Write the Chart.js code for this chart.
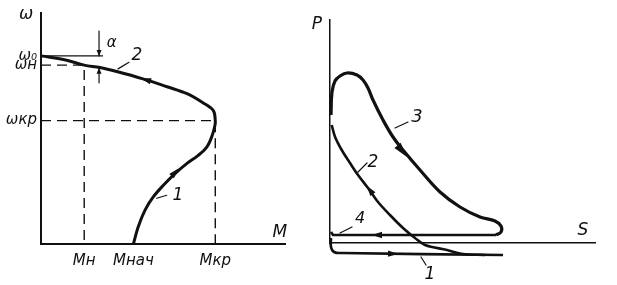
<!DOCTYPE html>
<html>
<head>
<meta charset="utf-8">
<script src="https://cdn.jsdelivr.net/npm/chart.js@4.4.1/dist/chart.umd.min.js"></script>
<style>
html, body { margin: 0; padding: 0; background: #fff; }
#wrap { position: relative; width: 617px; height: 285px; }
canvas { position: absolute; top: 0; }
#left { left: 0; }
#right { left: 300px; }
</style>
</head>
<body>
<div id="wrap">
  <canvas id="left" width="300" height="285"></canvas>
  <canvas id="right" width="317" height="285"></canvas>
</div>
<script>
/* ================= DATA: left, ω(M) ================= */
const momentTicks = [0.248, 0.530, 1.0];
const momentLabels = ["Mн", "Mнач", "Mкр"];
const speedTicks = [1.0, 0.951, 0.656];
const speedLabels = ["ω₀", "ωн", "ωкр"];

// mechanical characteristic, from start (Mнач, 0) up to idle (0, ω0)
const charM = [0.530, 0.558, 0.597, 0.644, 0.702, 0.769, 0.836, 0.902, 0.951, 0.979, 0.998, 1.0,
               0.989, 0.929, 0.838, 0.723, 0.585, 0.434, 0.338, 0.248, 0.147, 0];
const charW = [0, 0.092, 0.180, 0.250, 0.312, 0.374, 0.427, 0.471, 0.515, 0.568, 0.630, 0.656,
               0.709, 0.751, 0.799, 0.836, 0.878, 0.917, 0.938, 0.951, 0.977, 1.0];

/* ================= DATA: right, P(S) ================= */
const loop3S = [0.01, 0.02, 0.05, 0.10, 0.17, 0.27, 0.33, 0.38, 0.43, 0.53, 0.63, 0.73,
                0.90, 1.10, 1.30, 1.50, 1.65, 1.71, 1.71, 1.66];
const loop3P = [1.28, 1.51, 1.62, 1.67, 1.70, 1.68, 1.63, 1.55, 1.43, 1.23, 1.06, 0.93,
                0.73, 0.51, 0.36, 0.26, 0.22, 0.17, 0.11, 0.08];
const line4S = [1.66, 0.03, 0.01];
const line4P = [0.08, 0.08, 0.11];
const line1S = [0.01, 0.01, 0.04, 0.12, 1.73];
const line1P = [0.05, -0.04, -0.09, -0.10, -0.12];
const curve2S = [0.017, 0.05, 0.117, 0.20, 0.28, 0.38, 0.48, 0.60, 0.73, 0.85, 0.95, 1.17, 1.33, 1.55];
const curve2P = [1.18, 1.063, 0.93, 0.80, 0.68, 0.55, 0.41, 0.28, 0.15, 0.05, -0.02, -0.07, -0.11, -0.12];

const INK = "#111";
const HAND = "'DejaVu Sans', sans-serif";

function pts(xs, ys) { return xs.map((x, i) => ({ x: x, y: ys[i] })); }

function line(data, width, extra) {
    return Object.assign({
        data: data, showLine: true, borderColor: INK, backgroundColor: INK,
        borderWidth: width, pointRadius: 0, tension: 0, fill: false, clip: false
    }, extra || {});
}

function arrowHead(ctx, x1, y1, x2, y2, len, half) {
    const a = Math.atan2(y2 - y1, x2 - x1);
    const bx = x2 - len * Math.cos(a), by = y2 - len * Math.sin(a);
    ctx.beginPath();
    ctx.moveTo(x2, y2);
    ctx.lineTo(bx + half * Math.sin(a), by - half * Math.cos(a));
    ctx.lineTo(bx - half * Math.sin(a), by + half * Math.cos(a));
    ctx.closePath();
    ctx.fill();
}

/* ================= ANNOTATIONS (arrows, leaders, labels) ================= */
const notesPlugin = {
    id: "notes",
    afterDatasetsDraw(chart, args, opts) {
        const ctx = chart.ctx, sx = chart.scales.x, sy = chart.scales.y;
        const px = p => [sx.getPixelForValue(p[0]), sy.getPixelForValue(p[1])];
        ctx.save();
        ctx.strokeStyle = INK;
        ctx.fillStyle = INK;
        ctx.lineCap = "round";

        (opts.leaders || []).forEach(l => {
            const a = px(l.from), b = px(l.to);
            ctx.lineWidth = l.width || 1.2;
            ctx.beginPath();
            ctx.moveTo(a[0], a[1]);
            ctx.lineTo(b[0], b[1]);
            ctx.stroke();
            if (l.head) arrowHead(ctx, a[0], a[1], b[0], b[1], 6, 2.5);
        });

        (opts.arrows || []).forEach(ar => {
            const a = px(ar.from), b = px(ar.to);
            arrowHead(ctx, a[0], a[1], b[0], b[1], ar.len || 10, ar.half || 3.2);
        });

        ctx.textAlign = "center";
        ctx.textBaseline = "middle";
        (opts.texts || []).forEach(t => {
            const p = px(t.at);
            ctx.font = "italic " + (t.size || 16) + "px " + HAND;
            ctx.fillText(t.text, p[0], p[1]);
        });
        ctx.restore();
    }
};

function axis(min, max, size, border, extra) {
    return Object.assign({
        type: "linear", min: min, max: max,
        grid: { display: false, drawTicks: false },
        border: { display: true, color: INK, width: border },
        afterFit: s => { if (s.isHorizontal()) s.height = size; else s.width = size; },
        ticks: { display: false }
    }, extra || {});
}

function tickSet(values, labels, padding) {
    return {
        afterBuildTicks: s => { s.ticks = values.map(v => ({ value: v })); },
        ticks: {
            autoSkip: false, maxRotation: 0, minRotation: 0, padding: padding,
            color: INK, font: { family: HAND, size: 15, style: "italic" },
            callback: (v, i) => labels[i]
        }
    };
}

/* ================= LEFT CHART ================= */
new Chart(document.getElementById("left"), {
    type: "scatter",
    data: {
        datasets: [
            line(pts(charM, charW), 3, { tension: 0.35 }),
            line([{ x: 0, y: speedTicks[1] }, { x: momentTicks[0], y: speedTicks[1] }, { x: momentTicks[0], y: 0 }],
                 1.4, { borderDash: [10, 6] }),
            line([{ x: 0, y: speedTicks[2] }, { x: momentTicks[2], y: speedTicks[2] }, { x: momentTicks[2], y: 0 }],
                 1.4, { borderDash: [10, 6] }),
            line([{ x: 0, y: speedTicks[0] }, { x: 0.356, y: speedTicks[0] }], 1.2)
        ]
    },
    options: {
        responsive: false,
        animation: false,
        layout: { padding: { top: 12, right: 15, left: 0, bottom: 0 } },
        scales: {
            x: axis(0, 1.4, 41, 2, tickSet(momentTicks, momentLabels, 8)),
            y: axis(0, 1.228, 41, 2, tickSet(speedTicks, speedLabels, 4))
        },
        plugins: {
            legend: { display: false },
            tooltip: { enabled: false },
            notes: {
                texts: [
                    { text: "ω", at: [-0.086, 1.222], size: 17 },
                    { text: "M", at: [1.371, 0.063], size: 17 },
                    { text: "α", at: [0.405, 1.069], size: 15 },
                    { text: "2", at: [0.551, 1.0], size: 17 },
                    { text: "1", at: [0.786, 0.259], size: 17 }
                ],
                leaders: [
                    { from: [0.442, 0.931], to: [0.505, 0.966] },
                    { from: [0.664, 0.243], to: [0.721, 0.259] },
                    { from: [0.333, 1.132], to: [0.333, 1.0], head: true },
                    { from: [0.333, 0.857], to: [0.333, 0.937], head: true }
                ],
                arrows: [
                    { from: [0.68, 0.85], to: [0.575, 0.881] },
                    { from: [0.702, 0.312], to: [0.788, 0.401] }
                ]
            }
        }
    },
    plugins: [notesPlugin]
});

/* ================= RIGHT CHART ================= */
new Chart(document.getElementById("right"), {
    type: "scatter",
    data: {
        datasets: [
            line(pts(loop3S, loop3P), 3.2, { tension: 0.4 }),
            line(pts(line4S, line4P), 2.6),
            line(pts(line1S, line1P), 2.6, { tension: 0.4 }),
            line(pts(curve2S, curve2P), 2.6, { tension: 0.35 })
        ]
    },
    options: {
        responsive: false,
        animation: false,
        layout: { padding: { top: 20, right: 22, left: 0, bottom: 0 } },
        scales: {
            x: axis(0, 2.65, 42, 1.5),
            y: axis(0, 2.23, 30, 1.5)
        },
        plugins: {
            legend: { display: false },
            tooltip: { enabled: false },
            notes: {
                texts: [
                    { text: "P", at: [-0.13, 2.18], size: 17 },
                    { text: "S", at: [2.53, 0.12], size: 17 },
                    { text: "3", at: [0.87, 1.26], size: 18 },
                    { text: "2", at: [0.43, 0.80], size: 17 },
                    { text: "4", at: [0.30, 0.24], size: 16 },
                    { text: "1", at: [1.00, -0.32], size: 17 }
                ],
                leaders: [
                    { from: [0.65, 1.15], to: [0.78, 1.21] },
                    { from: [0.28, 0.71], to: [0.37, 0.80] },
                    { from: [0.10, 0.10], to: [0.22, 0.16] },
                    { from: [0.91, -0.14], to: [0.96, -0.22] }
                ],
                arrows: [
                    { from: [0.45, 0.46], to: [0.37, 0.57] },
                    { from: [0.64, 1.02], to: [0.77, 0.86], len: 15, half: 4 },
                    { from: [0.55, 0.08], to: [0.42, 0.08] },
                    { from: [0.55, -0.105], to: [0.68, -0.11] }
                ]
            }
        }
    },
    plugins: [notesPlugin]
});
</script>
</body>
</html>
